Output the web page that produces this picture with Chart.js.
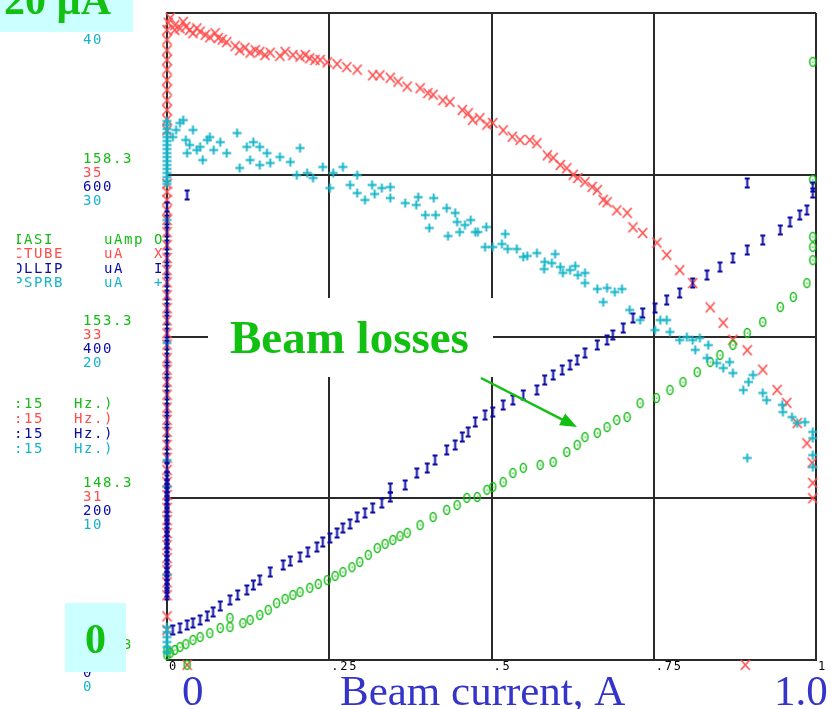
<!DOCTYPE html>
<html>
<head>
<meta charset="utf-8">
<script src="https://cdn.jsdelivr.net/npm/chart.js@4.4.1/dist/chart.umd.min.js"></script>
<style>
  html, body { margin: 0; padding: 0; background: #fff; }
  canvas { display: block; }
</style>
</head>
<body>
<canvas id="beamChart" width="834" height="709"></canvas>
<script>
// beam current (A) vs. loss monitor readings, each channel on its own scale
var xTicks = [0, 0.25, 0.5, 0.75, 1];
var xTickText = ['0', '.25', '.5', '.75', '1'];
var iasiTicks = ['143.3', '148.3', '153.3', '158.3', '163.3'];
var ctubeTicks = ['29', '31', '33', '35', '37'];
var collipTicks = ['0', '200', '400', '600', '800'];
var psprbTicks = ['0', '10', '20', '30', '40'];

// IASI, uAmp  (green O)
var iasiPts = [[0.005,143.52],[0.012,143.61],[0.020,143.70],[0.029,143.79],[0.040,143.92],[0.051,144.01],
  [0.066,144.13],[0.082,144.29],[0.097,144.32],[0.097,144.60],[0.117,144.44],[0.128,144.54],[0.143,144.69],
  [0.156,144.85],[0.169,145.06],[0.182,145.19],[0.194,145.31],[0.205,145.40],[0.220,145.53],[0.233,145.65],
  [0.247,145.77],[0.259,145.90],[0.271,146.02],[0.285,146.17],[0.297,146.33],[0.310,146.55],[0.324,146.76],
  [0.336,146.89],[0.348,147.01],[0.359,147.13],[0.370,147.23],[0.390,147.47],[0.410,147.72],[0.431,147.94],
  [0.447,148.09],[0.462,148.31],[0.478,148.34],[0.493,148.56],[0.502,148.65],[0.518,148.80],[0.533,149.08],
  [0.549,149.24],[0.575,149.33],[0.595,149.42],[0.616,149.73],[0.632,149.95],[0.644,150.19],[0.663,150.32],
  [0.678,150.50],[0.693,150.72],[0.709,150.81],[0.729,151.24],[0.754,151.40],[0.775,151.65],[0.795,151.89],
  [0.817,152.20],[0.837,152.51],[0.852,152.73],[0.872,153.04],[0.894,153.41],[0.918,153.75],[0.945,154.21],
  [0.965,154.52],[0.986,154.95],[0.995,155.66],[0.995,156.07],[0.995,156.38],[0.995,158.14],[0.995,161.79],
  [0,143.45],[0,143.62],[0.894,163.49],[0.995,163.49],[0.031,143.15]];

// CTUBE, uA  (red X)
var ctubePts = [[0.002,36.88],[0.005,36.94],[0.012,36.85],[0.012,36.79],[0.020,36.81],[0.025,36.89],
  [0.029,36.83],[0.035,36.79],[0.040,36.75],[0.046,36.81],[0.051,36.77],[0.059,36.73],[0.066,36.70],
  [0.074,36.75],[0.079,36.69],[0.085,36.67],[0.092,36.64],[0.105,36.59],[0.112,36.54],[0.120,36.57],
  [0.128,36.51],[0.136,36.54],[0.143,36.52],[0.151,36.48],[0.159,36.51],[0.174,36.47],[0.182,36.52],
  [0.194,36.48],[0.205,36.46],[0.213,36.48],[0.220,36.44],[0.228,36.42],[0.236,36.42],[0.247,36.39],
  [0.262,36.37],[0.277,36.33],[0.293,36.30],[0.317,36.23],[0.328,36.23],[0.344,36.20],[0.356,36.15],
  [0.370,36.09],[0.390,36.07],[0.402,36.01],[0.410,35.99],[0.425,35.92],[0.436,35.90],[0.455,35.80],
  [0.464,35.76],[0.471,35.68],[0.482,35.70],[0.493,35.62],[0.502,35.64],[0.518,35.55],[0.532,35.47],
  [0.544,35.43],[0.559,35.43],[0.570,35.39],[0.586,35.24],[0.595,35.21],[0.606,35.12],[0.616,35.08],
  [0.626,35.00],[0.633,34.96],[0.644,34.91],[0.655,34.85],[0.663,34.81],[0.672,34.69],[0.678,34.66],
  [0.693,34.56],[0.709,34.53],[0.718,34.35],[0.733,34.28],[0.755,34.16],[0.770,34.01],
  [0.790,33.82],[0.810,33.66],[0.837,33.36],[0.857,33.17],[0.872,32.96],[0.894,32.83],[0.918,32.59],
  [0.940,32.34],[0.955,32.18],[0.971,31.93],[0.986,31.68],[0.994,31.44],[0.995,31.19],[0.995,31.00],
  [0.891,28.94],[0.031,28.94],
  [0,36.79],[0,36.67],[0,36.54],[0,36.42],[0,36.30],[0,36.17],[0,36.05],[0,35.92],[0,35.80],[0,35.68],
  [0,35.55],[0,34.89],[0,34.79],[0,34.69],[0,34.56],[0,34.44],[0,34.29],[0,34.13],[0,33.97],[0,33.82],
  [0,33.67],[0,33.51],[0,33.35],[0,33.20],[0,33.04],[0,32.90],[0,32.73],[0,32.59],[0,32.44],[0,32.28],
  [0,32.12],[0,31.97],[0,31.82],[0,31.66],[0,31.50],[0,31.35],[0,31.20],[0,31.04],[0,30.88],[0,30.73],
  [0,30.57],[0,30.42],[0,30.26],[0,30.11],[0,29.96],[0,29.80],[0,29.54],[0,29.37]];

// COLLIP, uA  (blue I)
var collipPts = [[0.009,37.1],[0.020,39.6],[0.031,43.3],[0.040,45.8],[0.051,49.5],[0.062,54.4],[0.071,59.4],
  [0.082,66.8],[0.097,74.2],[0.109,80.4],[0.123,86.6],[0.133,92.7],[0.143,98.9],[0.159,108.8],[0.179,117.5],
  [0.190,122.4],[0.205,127.4],[0.217,133.5],[0.231,139.7],[0.240,145.9],[0.251,150.9],[0.262,157.0],
  [0.271,163.2],[0.282,168.2],[0.293,176.8],[0.305,181.8],[0.317,187.9],[0.331,194.1],[0.344,201.5],
  [0.344,212.7],[0.367,216.4],[0.385,231.2],[0.401,237.4],[0.413,247.3],[0.431,259.7],[0.444,265.8],
  [0.455,275.7],[0.464,281.9],[0.475,294.3],[0.490,302.9],[0.502,306.6],[0.518,315.3],[0.533,321.5],
  [0.549,327.7],[0.570,333.9],[0.582,346.2],[0.595,352.4],[0.609,358.6],[0.621,364.8],[0.632,370.9],
  [0.644,379.6],[0.663,389.5],[0.678,395.7],[0.687,401.9],[0.703,410.5],[0.718,422.9],[0.733,429.1],
  [0.752,435.2],[0.770,445.1],[0.790,453.8],[0.810,466.2],[0.832,476.0],[0.852,485.9],[0.872,497.1],
  [0.894,506.9],[0.918,519.3],[0.945,531.7],[0.960,541.6],[0.975,550.2],[0.986,556.4],[0.995,577.4],
  [0.995,584.9],[0.894,589.8],[0.031,575.0],
  [0,560.1],[0,544.1],[0,529.2],[0,513.1],[0,497.1],[0,482.2],[0,467.4],[0,451.3],[0,435.2],[0,420.4],
  [0,404.3],[0,389.5],[0,373.4],[0,358.6],[0,343.7],[0,327.7],[0,311.6],[0,296.8],[0,281.9],[0,265.8],
  [0,249.8],[0,237.4],[0,227.5],[0,222.6],[0,217.6],[0,212.7],[0,207.7],[0,202.8],[0,197.8],[0,192.9],
  [0,187.9],[0,183.0],[0,178.1],[0,173.1],[0,168.2],[0,163.2],[0,158.3],[0,153.3],[0,148.4],[0,143.4],
  [0,138.5],[0,133.5],[0,128.6],[0,123.6],[0,118.7],[0,113.8],[0,108.8],[0,103.9],[0,98.9],[0,94.0],
  [0,89.0],[0,84.1],[0,80.4]];

// PSPRB, uA  (cyan +)
var psprbPts = [[0.009,32.33],[0.014,32.77],[0.020,33.20],[0.025,33.38],[0.029,32.15],[0.031,31.34],
  [0.035,31.84],[0.040,32.77],[0.046,31.53],[0.051,31.72],[0.055,30.91],[0.062,32.15],[0.066,32.33],
  [0.072,31.53],[0.082,32.02],[0.092,31.34],[0.108,32.58],[0.112,30.42],[0.123,31.72],[0.128,30.91],
  [0.133,32.02],[0.143,31.72],[0.143,30.60],[0.154,31.34],[0.159,30.73],[0.174,31.10],[0.190,30.79],
  [0.200,29.98],[0.205,31.65],[0.216,30.11],[0.225,29.80],[0.240,30.48],[0.251,29.18],[0.256,30.11],
  [0.271,30.48],[0.282,29.37],[0.293,29.98],[0.293,28.87],[0.305,28.44],[0.316,29.37],[0.320,28.81],
  [0.331,29.18],[0.344,29.24],[0.344,28.56],[0.367,28.25],[0.384,28.13],[0.387,28.62],[0.398,27.51],
  [0.404,26.71],[0.411,28.56],[0.414,27.51],[0.431,27.94],[0.433,26.21],[0.444,27.64],[0.447,27.08],
  [0.451,26.46],[0.459,26.89],[0.468,27.20],[0.475,26.46],[0.479,26.46],[0.490,25.53],[0.492,26.77],
  [0.502,25.53],[0.516,25.72],[0.521,26.34],[0.525,25.41],[0.539,25.41],[0.549,24.92],[0.555,24.98],
  [0.570,25.16],[0.582,24.61],[0.581,24.17],[0.593,24.54],[0.598,25.10],[0.606,24.30],[0.610,23.93],
  [0.621,24.11],[0.629,24.36],[0.633,23.80],[0.644,23.93],[0.644,23.31],[0.663,22.94],[0.672,22.13],
  [0.678,23.00],[0.690,22.75],[0.701,22.94],[0.713,21.64],[0.729,21.02],[0.752,20.40],[0.760,21.02],
  [0.770,21.02],[0.775,20.28],[0.790,19.78],[0.801,19.97],[0.810,19.78],[0.814,19.17],[0.821,19.91],
  [0.834,19.47],[0.832,18.67],[0.847,18.36],[0.857,18.05],[0.867,18.42],[0.872,17.74],[0.888,16.69],
  [0.896,17.19],[0.903,17.62],[0.918,16.51],[0.924,16.07],[0.948,15.77],[0.949,15.33],[0.963,15.02],
  [0.971,14.65],[0.983,14.71],[0.995,14.10],[0.995,13.72],[0.995,12.67],[0.995,11.93],[0.894,12.49],
  [0,40.37],
  [0,33.32],[0,33.08],[0,32.83],[0,32.58],[0,32.33],[0,32.09],[0,31.84],[0,31.59],[0,31.34],[0,31.10],
  [0,30.85],[0,30.60],[0,30.36],[0,30.11],[0,29.86],[0,29.61],[0,29.43],[0,27.20],[0,19.60],[0,12.36],
  [0,10.70],[0,5.26],[0,2.04],[0,1.73],[0,1.42],[0,1.11],[0,0.80],[0,0.49]];

var GREEN = '#14bc14';
var RED = '#ff4c4c';
var BLUE = '#0a0aa4';
var CYAN = '#16b4c8';
var GRID = '#2a2a2a';

function glyph(w, h, paint) {
  var c = document.createElement('canvas');
  c.width = w; c.height = h;
  paint(c.getContext('2d'));
  return c;
}
var markO = glyph(9, 12, function (g) {
  g.strokeStyle = GREEN; g.lineWidth = 1.5;
  g.beginPath(); g.ellipse(4.5, 6, 3, 4.4, 0, 0, Math.PI * 2); g.stroke();
  g.fillStyle = GREEN; g.fillRect(4, 5.5, 1.3, 1.3);
});
var markX = glyph(11, 12, function (g) {
  g.strokeStyle = RED; g.lineWidth = 1.6;
  g.beginPath(); g.moveTo(1, 1); g.lineTo(10, 11); g.moveTo(10, 1); g.lineTo(1, 11); g.stroke();
});
var markI = glyph(7, 12, function (g) {
  g.strokeStyle = BLUE; g.lineWidth = 2;
  g.beginPath(); g.moveTo(3.5, 1); g.lineTo(3.5, 11);
  g.moveTo(1, 1.5); g.lineTo(6, 1.5); g.moveTo(1, 10.5); g.lineTo(6, 10.5); g.stroke();
});
var markPlus = glyph(11, 11, function (g) {
  g.strokeStyle = CYAN; g.lineWidth = 1.9;
  g.beginPath(); g.moveTo(5.5, 1); g.lineTo(5.5, 10); g.moveTo(1, 5.5); g.lineTo(10, 5.5); g.stroke();
});

function toXY(pts) {
  return pts.map(function (p) { return { x: p[0], y: p[1] }; });
}

function mono(ctx, txt, x, y, step) {
  for (var i = 0; i < txt.length; i++) ctx.fillText(txt[i], x + i * step, y);
}

var textPlugin = {
  id: 'beamText',
  afterDraw: function (chart) {
    var ctx = chart.ctx;
    var s = chart.scales;
    ctx.save();
    ctx.textAlign = 'left';
    ctx.textBaseline = 'middle';

    // stacked tick labels of the four channels
    ctx.font = '14px "DejaVu Sans Mono"';
    var stacks = [[s.yG, iasiTicks, GREEN, -15], [s.yR, ctubeTicks, RED, -1],
                  [s.yB, collipTicks, BLUE, 13], [s.yC, psprbTicks, CYAN, 27]];
    stacks.forEach(function (st) {
      ctx.fillStyle = st[2];
      st[1].forEach(function (t) {
        mono(ctx, t, 83, st[0].getPixelForValue(parseFloat(t)) + st[3], 10);
      });
    });

    // channel legend, cut at the left edge
    ctx.save();
    ctx.beginPath(); ctx.rect(17, 0, 150, 709); ctx.clip();
    var rows = [['IASI     uAmp O', GREEN], ['CTUBE    uA   X', RED],
                ['OLLIP    uA   I', BLUE], ['PSPRB    uA   +', CYAN]];
    rows.forEach(function (r, i) { ctx.fillStyle = r[1]; mono(ctx, r[0], 14, 240 + i * 14.5, 10); });
    rows.forEach(function (r, i) { ctx.fillStyle = r[1]; mono(ctx, ':15   Hz.)', 14, 404 + i * 15, 10); });
    ctx.restore();

    // x tick labels
    ctx.fillStyle = '#000';
    ctx.font = '12px "DejaVu Sans Mono"';
    xTicks.forEach(function (v, i) { mono(ctx, xTickText[i], s.x.getPixelForValue(v) + 2, 667, 9); });

    // boxes
    ctx.textBaseline = 'alphabetic';
    ctx.fillStyle = '#ccffff';
    ctx.fillRect(0, 0, 133, 32);
    ctx.fillRect(65, 603, 61, 69);
    ctx.fillStyle = '#12c012';
    ctx.font = 'bold 42px "Liberation Serif"';
    ctx.fillText('20 \u00b5A', 4, 14);
    ctx.textAlign = 'center';
    ctx.fillText('0', 95.5, 653);

    ctx.fillStyle = '#fff';
    ctx.fillRect(208, 298, 285, 79);
    ctx.fillStyle = '#12c012';
    ctx.textAlign = 'left';
    ctx.font = 'bold 47px "Liberation Serif"';
    ctx.fillText('Beam losses', 230, 353);

    // arrow
    var x0 = 481, y0 = 378, x1 = 577, y1 = 427;
    var a = Math.atan2(y1 - y0, x1 - x0);
    ctx.strokeStyle = '#12c012'; ctx.lineWidth = 2.5;
    ctx.beginPath(); ctx.moveTo(x0, y0); ctx.lineTo(x1 - 12 * Math.cos(a), y1 - 12 * Math.sin(a)); ctx.stroke();
    ctx.beginPath(); ctx.moveTo(x1, y1);
    ctx.lineTo(x1 - 18 * Math.cos(a - 0.38), y1 - 18 * Math.sin(a - 0.38));
    ctx.lineTo(x1 - 18 * Math.cos(a + 0.38), y1 - 18 * Math.sin(a + 0.38));
    ctx.closePath(); ctx.fill();

    // axis title
    ctx.fillStyle = '#3434c8';
    ctx.font = '43px "Liberation Serif"';
    ctx.fillText('0', 182, 705);
    ctx.fillText('Beam current, A', 340, 705);
    ctx.fillText('1.0', 774, 705);
    ctx.restore();
  }
};

function hiddenAxis(min, max) {
  return { type: 'linear', display: false, min: min, max: max };
}

new Chart(document.getElementById('beamChart'), {
  type: 'scatter',
  data: {
    datasets: [
      { label: 'COLLIP', data: toXY(collipPts), yAxisID: 'yB', pointStyle: markI, clip: false },
      { label: 'PSPRB', data: toXY(psprbPts), yAxisID: 'yC', pointStyle: markPlus, clip: false },
      { label: 'IASI', data: toXY(iasiPts), yAxisID: 'yG', pointStyle: markO, clip: false },
      { label: 'CTUBE', data: toXY(ctubePts), yAxisID: 'yR', pointStyle: markX, clip: false }
    ]
  },
  options: {
    responsive: false,
    animation: false,
    devicePixelRatio: 1,
    layout: { padding: { left: 167, right: 18, top: 13, bottom: 49 } },
    plugins: { legend: { display: false }, tooltip: { enabled: false } },
    scales: {
      x: {
        type: 'linear', min: 0, max: 1,
        ticks: { display: false, stepSize: 0.25 },
        grid: { color: GRID, lineWidth: 2, drawTicks: false },
        border: { display: true, color: GRID, width: 2 },
        afterFit: function (sc) { sc.height = 0; }
      },
      yC: {
        type: 'linear', position: 'left', min: 0, max: 40,
        ticks: { display: false, stepSize: 10 },
        grid: { color: GRID, lineWidth: 2, drawTicks: false },
        border: { display: true, color: GRID, width: 2 },
        afterFit: function (sc) { sc.width = 0; }
      },
      yG: hiddenAxis(143.3, 163.3),
      yR: hiddenAxis(29, 37),
      yB: hiddenAxis(0, 800)
    }
  },
  plugins: [textPlugin]
});
</script>
</body>
</html>
